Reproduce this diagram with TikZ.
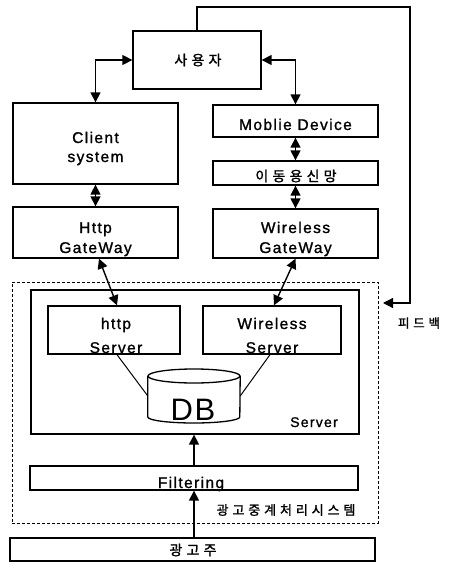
\documentclass[tikz,border=0pt]{standalone}
\usepackage{fontspec}
\setmainfont{Liberation Sans}[LetterSpace=9,FakeBold=1.2]
\newfontfamily\kr{Noto Sans CJK KR}[LetterSpace=30,FakeBold=1.5]
\newfontfamily\dbfont{Liberation Sans}[LetterSpace=5]
\usetikzlibrary{arrows.meta}
\begin{document}
\begin{tikzpicture}[x=1pt,y=-1pt,
  box/.style={draw,line width=1.3pt,inner sep=0pt},
  conn/.style={line width=1.4pt},
  dbl/.style={conn,{Triangle[length=10pt,width=10pt]}-{Triangle[length=10pt,width=10pt]}},
  one/.style={conn,-{Triangle[length=10pt,width=10pt]}},
  lbl/.style={inner sep=0pt,anchor=base,font=\fontsize{15.5}{18}\selectfont},
  klbl/.style={inner sep=0pt,font=\kr\fontsize{14}{17}\selectfont}]
\useasboundingbox (0,0) rectangle (452,572);
% boxes
\node[box,minimum width=128pt,minimum height=58pt] (user) at (197,60) {};
\node[box,minimum width=165pt,minimum height=81pt] (client) at (95.5,143.5) {};
\node[box,minimum width=165pt,minimum height=32pt] (mobile) at (295.5,121) {};
\node[box,minimum width=165pt,minimum height=24pt] (mobnet) at (295.5,173) {};
\node[box,minimum width=165pt,minimum height=51pt] (httpgw) at (95.5,232.5) {};
\node[box,minimum width=165pt,minimum height=49pt] (wgw) at (295.5,233.5) {};
\node[draw,line width=0.9pt,dash pattern=on 3pt off 2pt,inner sep=0pt,minimum width=366pt,minimum height=241pt] (relay) at (195,402.5) {};
\node[box,minimum width=328pt,minimum height=144pt] (server) at (195,362) {};
\node[box,minimum width=132pt,minimum height=48pt] (httpsrv) at (114,330) {};
\node[box,minimum width=138pt,minimum height=48pt] (wsrv) at (272,330) {};
\node[inner sep=0pt,minimum width=92pt,minimum height=54pt] (db) at (194,396) {};
\node[box,minimum width=328pt,minimum height=24pt] (filt) at (194,478) {};
\node[box,minimum width=365pt,minimum height=23pt] (adv) at (192.5,549.5) {};
% DB cylinder
\draw[line width=1.3pt] (db.west |- 0,376) -- (db.west |- 0,417)
  arc[start angle=180,end angle=360,x radius=46pt,y radius=6pt] -- (db.east |- 0,376);
\draw[line width=1.3pt] (194,376) ellipse[x radius=46pt,y radius=7pt];
% texts
\node[klbl] (tuser) at (198,60) {사용자};
\node[lbl] (tclient1) at (95.5,143) {Client};
\node[lbl] (tclient2) at (95.5,162) {system};
\node[lbl] (tmobile) at (295.5,130) {Moblie Device};
\node[klbl] (tmobnet) at (296,176) {이동용신망};
\node[lbl] (thttpgw1) at (95.5,233) {Http};
\node[lbl] (thttpgw2) at (95.5,253) {GateWay};
\node[lbl] (twgw1) at (295.5,233) {Wireless};
\node[lbl] (twgw2) at (295.5,253) {GateWay};
\node[lbl] (thttpsrv1) at (116,329) {http};
\node[lbl] (thttpsrv2) at (116,353) {Server};
\node[lbl] (twsrv1) at (272,329) {Wireless};
\node[lbl] (twsrv2) at (272,353) {Server};
\node[inner sep=0pt,anchor=base,font=\dbfont\fontsize{31}{36}\selectfont] (tdb) at (193,420) {DB};
\node[lbl,font=\fontsize{14}{17}\selectfont] (tserver) at (314,427) {Server};
\node[lbl] (tfilt) at (191,488) {Filtering};
\node[klbl,font=\kr\fontsize{13}{15}\selectfont] (trelay) at (286,510) {광고중계처리시스템};
\node[klbl] (tadv) at (193,550) {광고주};
\node[klbl,font=\kr\fontsize{12.5}{15}\selectfont] (tfb) at (419,323) {피드백};
% connectors
\draw[dbl] (user.west) -| (client.north);
\draw[dbl] (user.east) -| (mobile.north);
\draw[dbl] (client.south) -- (httpgw.north);
\draw[dbl] (mobile.south) -- (mobnet.north);
\draw[dbl] (mobnet.south) -- (wgw.north);
\draw[dbl] ([xshift=3.5pt]httpgw.south) -- ([xshift=3pt]httpsrv.north);
\draw[dbl] (wgw.south) -- ([xshift=2pt]wsrv.north);
\draw[line width=1pt] ([xshift=3pt]httpsrv.south) -- (db.west);
\draw[line width=1pt] ([xshift=-2pt]wsrv.south) -- (db.east);
\draw[one] (filt.north) -- (filt.north |- server.south);
\draw[one] (adv.north -| filt.north) -- (filt.south);
\coordinate (fbtop) at (410,7);
\coordinate (fbend) at (383,303);
\draw[one,line width=1.3pt] (user.north) |- (fbtop) |- (fbend);
\end{tikzpicture}
\end{document}
